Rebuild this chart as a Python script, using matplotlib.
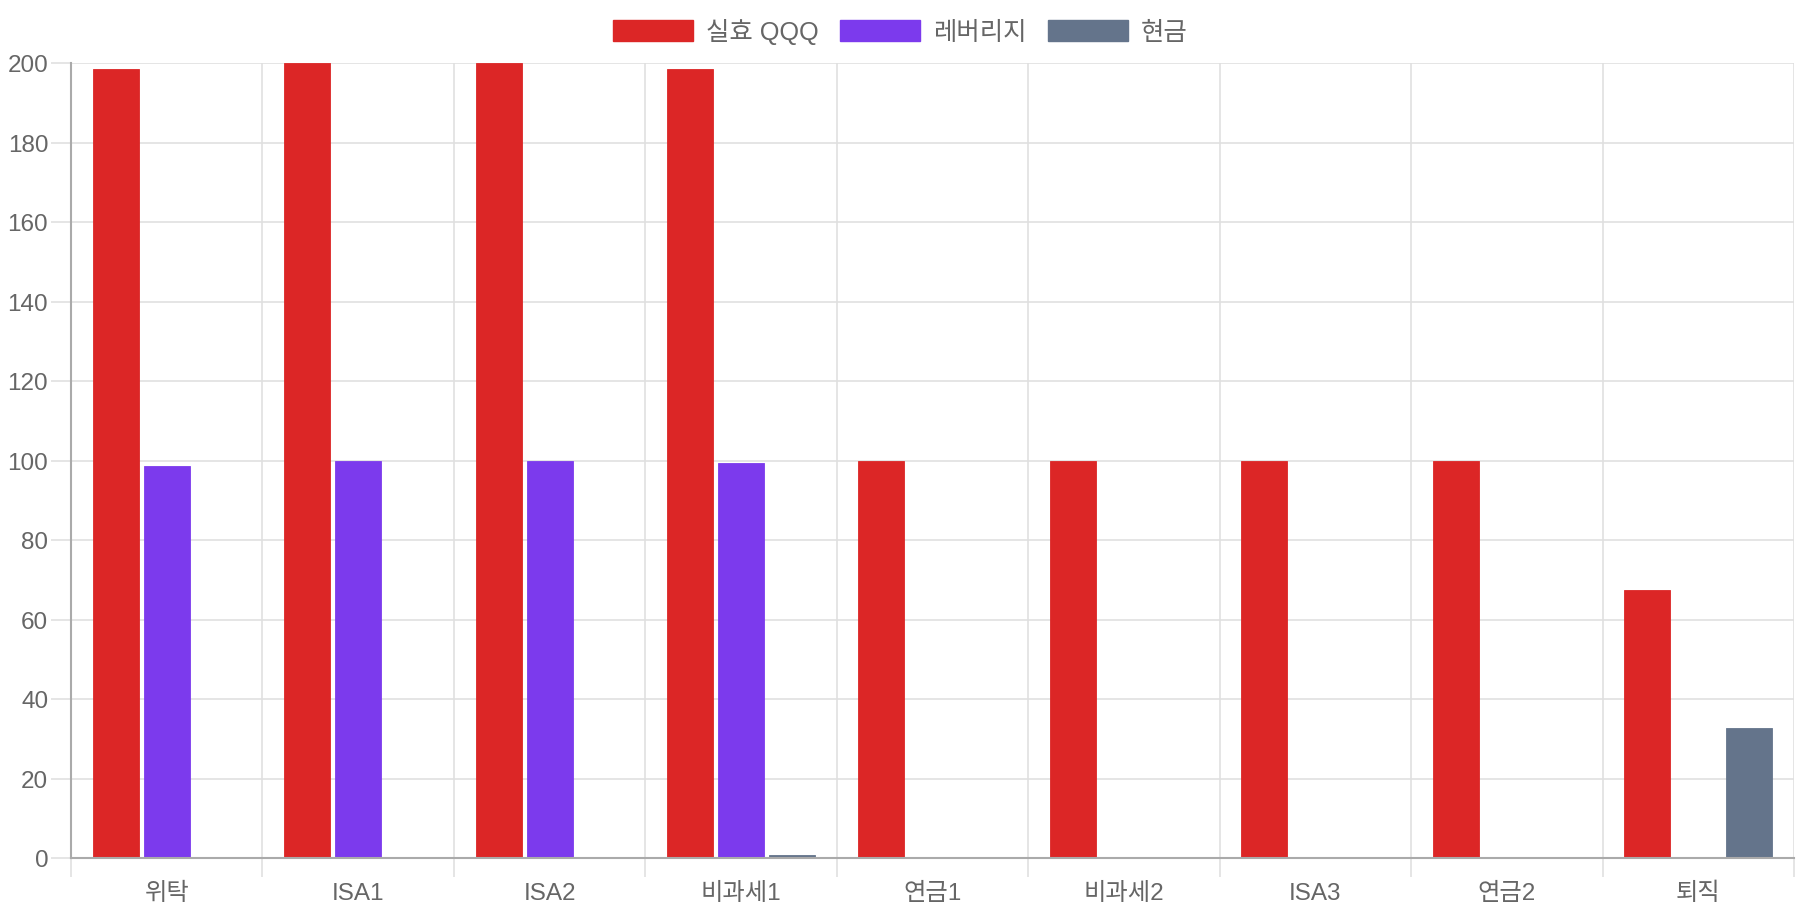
import matplotlib
matplotlib.use("Agg")
import matplotlib.pyplot as plt
import numpy as np
from matplotlib.patches import Patch

plt.rcParams['font.family'] = ['Liberation Sans', 'Noto Sans CJK KR', 'DejaVu Sans']

categories = ['위탁', 'ISA1', 'ISA2', '비과세1', '연금1', '비과세2', 'ISA3', '연금2', '퇴직']
series_names = ['실효 QQQ', '레버리지', '현금']
qqq = [198.5, 200, 200, 198.5, 100, 100, 100, 100, 67.3]
leverage = [98.5, 100, 100, 99.3, 0, 0, 0, 0, 0]
cash = [0, 0, 0, 0.7, 0, 0, 0, 0, 32.7]
colors = ['#dc2626', '#7c3aed', '#64748b']
y_ticks = [0, 20, 40, 60, 80, 100, 120, 140, 160, 180, 200]

TEXT = '#666666'
GRID = '#e0e0e0'
AXIS = '#aaaaaa'
FS = 17.5

fig = plt.figure(figsize=(18, 9.2), dpi=100)
ax = fig.add_axes([71/1800, 1 - 859/920, (1794 - 71)/1800, (859 - 64)/920])

x = np.arange(len(categories))
slot = 0.8 / 3
bw = slot * 0.9
for i, (vals, col) in enumerate(zip([qqq, leverage, cash], colors)):
    ax.bar(x + (i - 1) * slot, vals, width=bw, color=col, zorder=3,
           edgecolor=col, linewidth=0.6)

ax.set_xlim(-0.5, len(categories) - 0.5)
ax.set_ylim(0, 200)

# grid
for yv in y_ticks:
    ax.axhline(yv, color=GRID, lw=1.2, zorder=1)
for k in range(len(categories) + 1):
    ax.axvline(k - 0.5, color=GRID, lw=1.2, zorder=1)

for s in ['top', 'right']:
    ax.spines[s].set_visible(False)
ax.spines['left'].set_color(AXIS)
ax.spines['bottom'].set_color(AXIS)
ax.spines['left'].set_linewidth(1.5)
ax.spines['bottom'].set_linewidth(1.5)
ax.spines['left'].set_zorder(4)
ax.spines['bottom'].set_zorder(4)

ax.set_yticks(y_ticks)
ax.set_yticklabels([str(v) for v in y_ticks])
ax.tick_params(axis='y', length=14.4, width=1.2, color=GRID, pad=2,
               labelsize=FS, labelcolor=TEXT)

ax.set_xticks(x)
ax.set_xticklabels(categories)
ax.tick_params(axis='x', which='major', length=0, pad=17, labelsize=FS, labelcolor=TEXT)
ax.set_xticks(np.arange(len(categories) + 1) - 0.5, minor=True)
ax.tick_params(axis='x', which='minor', length=13.7, width=1.2, color=GRID)

handles = [Patch(facecolor=c, edgecolor=c) for c in colors]
leg = fig.legend(handles, series_names, loc='center', bbox_to_anchor=(0.5, 1 - 32/920),
                 ncol=3, frameon=False, fontsize=18.3, handlelength=3.15, handleheight=0.9,
                 handletextpad=0.5, columnspacing=0.85, borderaxespad=0)
for t in leg.get_texts():
    t.set_color(TEXT)

fig.savefig('out.png', dpi=100)
